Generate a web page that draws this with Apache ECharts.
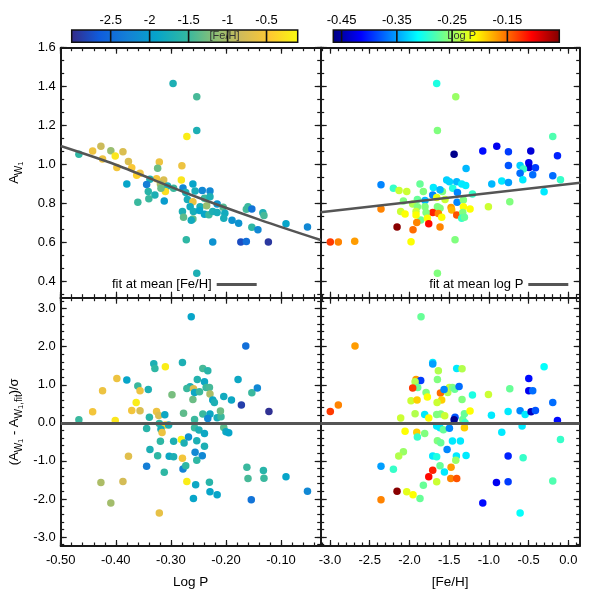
<!DOCTYPE html>
<html>
<head>
<meta charset="utf-8">
<script src="https://cdn.jsdelivr.net/npm/echarts@6/dist/echarts.min.js"></script>
<style>html,body{margin:0;padding:0;background:#fff}#c{width:595px;height:595px}</style>
</head>
<body>
<div id="c"></div>
<script>
// ---------- colour scales ----------
const fehColors  = ['#352a87','#0f5cdd','#1481d6','#06a4ca','#2eb7a4','#87bf77','#d1bb59','#fec832','#f9fb0e'];
const logpColors = ['#00007f','#0000ff','#007fff','#00ffff','#7fff7f','#ffff00','#ff7f00','#ff0000','#7f0000'];
const fehRange  = [-3.0, -0.1];
const logpRange = [-0.465, -0.056];

// ---------- tick labels ----------
const logPTicks = [-0.5, -0.4, -0.3, -0.2, -0.1];
const fehTicks  = [-3.0, -2.5, -2.0, -1.5, -1.0, -0.5, 0.0];
const ampTicks  = [0.4, 0.6, 0.8, 1.0, 1.2, 1.4, 1.6];
const resTicks  = [-3, -2, -1, 0, 1, 2, 3];
const fehBarTicks  = [-2.5, -2, -1.5, -1, -0.5];
const logpBarTicks = [-0.45, -0.35, -0.25, -0.15];

// ---------- panel (a): A_W1 vs Log P, coloured by [Fe/H] ----------
const ampLogP = [-0.296,-0.253,-0.253,-0.271,-0.467,-0.442,-0.427,-0.409,-0.387,-0.424,-0.401,-0.398,-0.377,-0.371,-0.356,-0.362,-0.380,-0.321,-0.324,-0.280,-0.281,-0.326,-0.313,-0.319,-0.338,-0.344,-0.341,-0.329,-0.306,-0.295,-0.310,-0.312,-0.360,-0.340,-0.318,-0.278,-0.260,-0.273,-0.256,-0.243,-0.229,-0.270,-0.260,-0.239,-0.229,-0.247,-0.235,-0.216,-0.265,-0.279,-0.259,-0.248,-0.277,-0.260,-0.263,-0.239,-0.231,-0.224,-0.216,-0.205,-0.202,-0.204,-0.189,-0.177,-0.163,-0.160,-0.153,-0.133,-0.131,-0.153,-0.142,-0.091,-0.052,-0.272,-0.224,-0.173,-0.163,-0.123,-0.253];
const ampLogPAmp = [1.416,1.349,1.175,1.145,1.053,1.070,1.094,1.072,1.067,1.029,1.044,0.986,1.017,0.985,0.956,0.946,0.901,1.014,0.982,0.995,0.922,0.928,0.922,0.901,0.925,0.899,0.863,0.845,0.891,0.879,0.862,0.814,0.807,0.826,0.879,0.881,0.901,0.857,0.865,0.868,0.865,0.822,0.810,0.828,0.836,0.785,0.790,0.798,0.785,0.760,0.760,0.765,0.731,0.722,0.715,0.746,0.743,0.760,0.755,0.782,0.751,0.725,0.715,0.700,0.771,0.785,0.773,0.753,0.740,0.679,0.667,0.697,0.680,0.615,0.604,0.603,0.606,0.603,0.443];
const ampLogPFeh = [-1.7,-1.45,-1.7,-0.2,-1.55,-0.6,-0.85,-1.1,-0.75,-0.6,-0.25,-0.55,-0.75,-0.5,-0.6,-0.4,-1.9,-0.6,-1.3,-0.6,-0.25,-0.55,-0.75,-1.0,-1.7,-2.3,-1.6,-1.7,-1.75,-1.5,-0.3,-2.0,-1.5,-1.5,-1.3,-2.2,-1.9,-1.7,-1.75,-2.2,-2.2,-1.75,-0.6,-1.5,-1.7,-1.7,-1.1,-2.1,-1.8,-1.7,-1.75,-1.9,-1.35,-1.35,-1.8,-1.9,-1.5,-1.7,-1.75,-1.4,-1.8,-1.75,-2.1,-2.1,-1.45,-1.5,-2.4,-1.7,-1.45,-1.55,-2.2,-1.9,-2.2,-1.55,-2.1,-2.75,-2.45,-2.9,-1.7];

// ---------- panel (b): A_W1 vs [Fe/H], coloured by Log P ----------
const ampFeh = [-1.657,-1.417,-1.648,-0.196,-1.438,-1.077,-0.901,-0.754,-0.473,-0.137,-0.754,-0.498,-0.494,-0.414,-0.607,-0.565,-0.607,-0.448,-0.573,-0.196,-0.099,-0.305,-0.838,-0.754,-0.964,-0.737,-1.006,-1.287,-1.531,-1.497,-1.405,-1.342,-1.292,-1.455,-1.396,-1.207,-1.585,-1.699,-1.615,-1.707,-1.867,-1.825,-2.358,-2.202,-2.131,-2.034,-2.076,-1.900,-1.959,-1.900,-1.804,-1.804,-1.657,-1.552,-1.400,-1.321,-1.321,-1.237,-1.476,-1.468,-1.405,-1.329,-1.342,-1.308,-1.648,-1.615,-1.707,-1.636,-1.594,-1.791,-1.858,-1.774,-1.908,-1.917,-1.917,-2.110,-2.055,-2.358,-2.156,-1.955,-1.757,-1.615,-2.996,-2.895,-2.689,-1.980,-1.426,-1.648];
const ampFehAmp = [1.416,1.349,1.175,1.145,1.053,1.070,1.094,1.067,1.070,1.046,0.996,1.010,0.986,0.985,0.996,0.978,0.956,0.949,0.923,0.944,0.923,0.861,0.916,0.909,0.901,0.810,0.785,0.980,0.922,0.913,0.913,0.901,0.893,0.879,0.857,0.850,0.862,0.883,0.872,0.845,0.901,0.862,0.897,0.879,0.868,0.862,0.814,0.822,0.798,0.785,0.816,0.785,0.832,0.822,0.807,0.819,0.785,0.773,0.781,0.768,0.742,0.755,0.725,0.730,0.785,0.777,0.755,0.750,0.730,0.755,0.716,0.725,0.703,0.760,0.742,0.760,0.747,0.773,0.680,0.667,0.697,0.680,0.604,0.604,0.607,0.605,0.615,0.443];
const ampFehLogP = [-0.30,-0.25,-0.26,-0.28,-0.46,-0.41,-0.42,-0.39,-0.43,-0.40,-0.38,-0.42,-0.43,-0.39,-0.33,-0.29,-0.37,-0.37,-0.32,-0.37,-0.29,-0.32,-0.32,-0.35,-0.34,-0.26,-0.23,-0.34,-0.33,-0.33,-0.34,-0.32,-0.32,-0.30,-0.36,-0.29,-0.26,-0.32,-0.34,-0.36,-0.27,-0.26,-0.36,-0.29,-0.23,-0.23,-0.26,-0.27,-0.24,-0.26,-0.34,-0.26,-0.22,-0.23,-0.36,-0.26,-0.21,-0.21,-0.17,-0.18,-0.14,-0.26,-0.29,-0.27,-0.26,-0.26,-0.12,-0.16,-0.21,-0.26,-0.27,-0.21,-0.16,-0.23,-0.21,-0.23,-0.21,-0.16,-0.06,-0.15,-0.11,-0.16,-0.13,-0.16,-0.17,-0.21,-0.26,-0.26];

// ---------- panel (c): residual vs Log P, coloured by [Fe/H] ----------
const resLogP = [-0.263,-0.164,-0.331,-0.329,-0.310,-0.279,-0.242,-0.233,-0.398,-0.380,-0.360,-0.356,-0.424,-0.341,-0.298,-0.252,-0.239,-0.265,-0.271,-0.259,-0.257,-0.248,-0.236,-0.230,-0.229,-0.260,-0.224,-0.221,-0.204,-0.190,-0.178,-0.153,-0.143,-0.172,-0.122,-0.363,-0.371,-0.356,-0.442,-0.467,-0.401,-0.326,-0.322,-0.311,-0.277,-0.339,-0.321,-0.310,-0.304,-0.344,-0.318,-0.316,-0.257,-0.242,-0.229,-0.233,-0.216,-0.209,-0.210,-0.257,-0.249,-0.239,-0.204,-0.200,-0.195,-0.319,-0.295,-0.281,-0.276,-0.268,-0.253,-0.239,-0.338,-0.324,-0.303,-0.295,-0.377,-0.279,-0.256,-0.243,-0.253,-0.344,-0.278,-0.273,-0.312,-0.162,-0.160,-0.132,-0.131,-0.091,-0.052,-0.154,-0.271,-0.255,-0.230,-0.229,-0.216,-0.259,-0.427,-0.387,-0.409,-0.321];
const resLogPRes = [2.790,2.018,1.553,1.430,1.474,1.589,1.430,1.369,1.168,1.124,0.966,0.843,0.843,0.878,0.738,1.141,1.080,0.948,0.904,0.896,0.799,0.817,0.930,0.930,0.755,0.615,0.597,0.536,0.694,0.597,1.141,0.790,0.913,0.466,0.299,0.536,0.325,0.317,0.290,0.080,0.062,0.299,0.194,0.211,0.255,0.150,-0.020,-0.060,-0.060,-0.148,-0.166,-0.255,0.088,0.230,0.230,0.115,0.132,0.159,0.308,-0.130,-0.190,-0.280,-0.120,-0.236,-0.263,-0.483,-0.483,-0.440,-0.527,-0.370,-0.474,-0.615,-0.700,-0.868,-0.877,-0.894,-0.877,-0.930,-0.770,-0.868,-0.982,-1.140,-1.210,-1.130,-1.300,-1.167,-1.465,-1.253,-1.455,-1.420,-1.800,-2.020,-1.540,-1.630,-1.560,-1.810,-1.890,-1.990,-1.570,-1.540,-2.110,-2.370];
const resLogPFeh = [-1.9,-2.45,-1.7,-1.55,-0.2,-1.7,-1.45,-1.6,-0.6,-1.9,-1.5,-0.6,-0.6,-1.7,-1.25,-1.65,-1.85,-1.7,-1.5,-0.75,-1.85,-1.5,-1.5,-1.45,-1.0,-1.3,-1.85,-1.7,-1.8,-1.85,-1.85,-1.5,-2.2,-2.85,-2.95,-0.2,-0.55,-0.75,-0.55,-1.5,-0.25,-0.6,-0.75,-1.85,-1.35,-1.6,-1.55,-0.4,-1.7,-1.6,-1.75,-0.6,-1.5,-1.5,-1.85,-2.2,-1.75,-1.5,-1.3,-1.5,-1.7,-1.85,-1.35,-1.85,-1.9,-1.55,-1.7,-0.15,-1.7,-2.1,-1.7,-1.7,-1.7,-1.55,-1.85,-1.7,-0.7,-0.55,-2.2,-2.2,-1.55,-2.3,-2.25,-1.55,-1.55,-1.5,-1.45,-1.6,-1.5,-1.9,-2.2,-2.4,-0.2,-1.85,-1.6,-1.9,-1.9,-1.9,-1.0,-0.8,-1.05,-0.65];

// ---------- panel (d): residual vs [Fe/H], coloured by Log P ----------
const resFeh = [-1.854,-2.685,-1.707,-1.707,-1.636,-1.405,-1.338,-0.305,-1.917,-1.858,-1.929,-1.896,-1.959,-1.648,-1.791,-1.610,-1.518,-1.497,-1.459,-1.564,-1.430,-1.375,-1.774,-1.980,-1.904,-1.594,-1.652,-1.338,-1.207,-1.006,-0.737,-0.498,-0.498,-0.448,-0.196,-1.929,-1.808,-1.757,-2.110,-1.657,-1.606,-1.556,-1.426,-1.438,-1.308,-1.329,-1.300,-1.237,-0.968,-0.758,-0.607,-0.544,-0.469,-0.414,-0.137,-1.657,-1.615,-1.573,-1.497,-2.055,-1.908,-1.900,-1.808,-1.308,-0.838,-0.582,-0.099,-1.648,-1.606,-1.459,-1.359,-1.526,-2.076,-2.135,-1.707,-1.657,-1.409,-1.287,-1.417,-1.615,-1.476,-1.560,-1.707,-1.757,-1.480,-1.405,-1.657,-1.825,-2.358,-2.202,-0.758,-0.569,-0.905,-0.758,-0.196,-2.156,-2.034,-1.955,-1.867,-2.358,-1.077,-0.607,-2.996,-2.895];
const resFehRes = [2.790,2.018,1.589,1.545,1.369,1.430,1.421,1.474,1.141,1.115,1.080,0.930,0.913,1.141,0.799,0.781,0.799,0.930,0.930,0.878,0.886,0.957,0.676,0.580,0.597,0.597,0.536,0.615,0.729,0.746,0.896,1.168,0.843,0.843,0.536,0.238,0.220,0.124,0.124,0.220,0.230,0.186,0.150,0.080,0.238,0.090,0.000,0.308,0.200,0.299,0.317,0.220,0.292,0.327,0.062,-0.080,-0.130,-0.180,-0.140,-0.220,-0.245,-0.370,-0.280,-0.130,-0.245,-0.080,-0.440,-0.473,-0.526,-0.480,-0.480,-0.700,-0.760,-0.870,-0.870,-0.894,-0.870,-0.860,-0.982,-1.130,-1.167,-1.290,-1.245,-1.420,-1.460,-1.460,-1.550,-1.640,-1.140,-1.220,-0.870,-0.920,-1.570,-1.550,-1.530,-1.800,-1.810,-1.890,-1.990,-2.020,-2.110,-2.370,0.300,0.466];
const resFehLogP = [-0.27,-0.17,-0.32,-0.35,-0.24,-0.32,-0.24,-0.31,-0.17,-0.39,-0.24,-0.27,-0.13,-0.26,-0.26,-0.15,-0.24,-0.23,-0.26,-0.36,-0.27,-0.37,-0.21,-0.23,-0.19,-0.19,-0.23,-0.26,-0.30,-0.23,-0.27,-0.41,-0.42,-0.37,-0.37,-0.24,-0.32,-0.21,-0.23,-0.26,-0.26,-0.23,-0.38,-0.46,-0.27,-0.27,-0.29,-0.21,-0.32,-0.32,-0.36,-0.32,-0.44,-0.38,-0.41,-0.32,-0.32,-0.27,-0.36,-0.21,-0.19,-0.29,-0.26,-0.19,-0.32,-0.32,-0.29,-0.26,-0.27,-0.32,-0.32,-0.36,-0.25,-0.24,-0.32,-0.30,-0.32,-0.32,-0.25,-0.27,-0.17,-0.32,-0.12,-0.11,-0.16,-0.14,-0.23,-0.27,-0.35,-0.29,-0.40,-0.29,-0.42,-0.39,-0.28,-0.06,-0.22,-0.21,-0.27,-0.16,-0.41,-0.31,-0.13,-0.16];

// ---------- fits ----------
const fitLogPX = [-0.5, -0.4, -0.264, -0.137, -0.028];
const fitLogPY = [1.096, 1.0, 0.846, 0.716, 0.614];
const fitFehX  = [-3.12, 0.15];
const fitFehY  = [0.756, 0.908];

// ---------- layout ----------
const FONT = '"Liberation Sans", Arial, Helvetica, sans-serif';
const INK = '#1a1a1a';
const logPExt = [-0.5, -0.028];
const fehExt  = [-3.117, 0.143];
const ampExt  = [0.318, 1.6];
const resExt  = [-3.237, 3.289];

function steps(a, b, s) { const o = []; for (let k = 0; a + k * s <= b + 1e-9; k++) o.push(+(a + k * s).toFixed(5)); return o; }
const logPMinor = steps(-0.5, -0.03, 0.02);
const fehMinor  = steps(-3.1, 0.1, 0.1);
const ampMinor  = steps(1.6 - 19 * 0.2 / 3, 1.6, 0.2 / 3).filter(v => v >= ampExt[0]);
const resMinor  = steps(-3.2, 3.2, 0.2);

const zip3 = (a, b, c) => a.map((v, i) => [v, b[i], c[i]]);
const zip2 = (a, b) => a.map((v, i) => [v, b[i]]);

function axisSet(kind, gi, ext, major, minor, lab) {
  const posA = kind === 'x' ? 'bottom' : 'left';
  const posB = kind === 'x' ? 'top' : 'right';
  const mk = (pos, ticks, len, line, label) => {
    const ax = {
      type: 'value', gridIndex: gi, min: ext[0], max: ext[1], position: pos,
      splitLine: { show: false },
      axisLine: { show: line, onZero: false, lineStyle: { color: INK, width: 2 } },
      axisTick: { show: true, inside: true, length: len, customValues: ticks, lineStyle: { color: INK, width: 1.2 } },
      axisLabel: { show: false }
    };
    if (label) {
      ax.axisLabel = { show: true, customValues: ticks, formatter: lab.fmt, fontSize: 13, color: '#000',
                       fontFamily: FONT, margin: lab.margin };
      if (lab.name) {
        ax.name = lab.name; ax.nameLocation = 'middle'; ax.nameGap = lab.gap;
        ax.nameTextStyle = lab.nameStyle;
      }
    }
    return ax;
  };
  return [
    mk(posA, major, 6, true, !!lab),
    mk(posA, minor, 3.5, false, false),
    mk(posB, major, 6, true, false),
    mk(posB, minor, 3.5, false, false)
  ];
}

const nameRich = {
  a: { fontSize: 13, fontFamily: FONT, color: '#000', lineHeight: 20, verticalAlign: 'middle' },
  s: { fontSize: 10, fontFamily: FONT, color: '#000', lineHeight: 11, verticalAlign: 'bottom' },
  t: { fontSize: 7.5, fontFamily: FONT, color: '#000', lineHeight: 6, verticalAlign: 'bottom' }
};
const f1 = v => v.toFixed(1), f2 = v => v.toFixed(2);

const xAxes = [].concat(
  axisSet('x', 0, logPExt, logPTicks, logPMinor, null),
  axisSet('x', 1, fehExt, fehTicks, fehMinor, null),
  axisSet('x', 2, logPExt, logPTicks, logPMinor, { fmt: f2, margin: 8, name: 'Log P', gap: 29,
          nameStyle: { fontSize: 13.5, color: '#000', fontFamily: FONT } }),
  axisSet('x', 3, fehExt, fehTicks, fehMinor, { fmt: f1, margin: 8, name: '[Fe/H]', gap: 29,
          nameStyle: { fontSize: 13.5, color: '#000', fontFamily: FONT } }),
  [
    { type: 'value', gridIndex: 4, min: fehRange[0], max: fehRange[1], position: 'top',
      splitLine: { show: false }, axisLine: { show: false }, axisTick: { show: false },
      axisLabel: { show: true, customValues: fehBarTicks, formatter: v => String(v), margin: 3, fontSize: 13, color: '#000', fontFamily: FONT } },
    { type: 'value', gridIndex: 5, min: logpRange[0], max: logpRange[1], position: 'top',
      splitLine: { show: false }, axisLine: { show: false }, axisTick: { show: false },
      axisLabel: { show: true, customValues: logpBarTicks, formatter: f2, margin: 3, fontSize: 13, color: '#000', fontFamily: FONT } }
  ]
);
const yAxes = [].concat(
  axisSet('y', 0, ampExt, ampTicks, ampMinor, { fmt: f1, margin: 5, name: '{a|A}{s|W}{t|1}', gap: 36,
          nameStyle: { rich: nameRich } }),
  axisSet('y', 1, ampExt, ampTicks, ampMinor, null),
  axisSet('y', 2, resExt, resTicks, resMinor, { fmt: f1, margin: 5,
          name: '{a|(A}{s|W}{t|1}{a| - A}{s|W}{t|1}{s|,fit}{a|)/σ}', gap: 36, nameStyle: { rich: nameRich } }),
  axisSet('y', 3, resExt, resTicks, resMinor, null),
  [
    { type: 'value', gridIndex: 4, min: 0, max: 1, show: false },
    { type: 'value', gridIndex: 5, min: 0, max: 1, show: false }
  ]
);

function gradient(cols) {
  return new echarts.graphic.LinearGradient(0, 0, 1, 0,
    cols.map((c, i) => ({ offset: i / (cols.length - 1), color: c })));
}
function barItem(cols, ticks) {
  return function (params, api) {
    const a = api.coord([api.value(0), 0]);
    const b = api.coord([api.value(1), 1]);
    const children = [{ type: 'rect', shape: { x: a[0], y: b[1], width: b[0] - a[0], height: a[1] - b[1] },
             style: { fill: gradient(cols), stroke: '#111', lineWidth: 1.5 } }];
    ticks.forEach(t => {
      const x = api.coord([t, 0])[0];
      children.push({ type: 'line', shape: { x1: x, y1: b[1], x2: x, y2: a[1] },
                      style: { stroke: '#111', lineWidth: 1.6 } });
    });
    return { type: 'group', children: children };
  };
}

const zeroLine = { silent: true, symbol: 'none', label: { show: false },
                   lineStyle: { color: '#555', width: 3, type: 'solid' }, data: [{ yAxis: 0 }] };
const sc = (xi, data, extra) => Object.assign({ type: 'scatter', xAxisIndex: xi, yAxisIndex: xi,
  symbolSize: 7.5, data: data, itemStyle: { opacity: 1 } }, extra || {});

const grids = [
  { left: 60.7, top: 47.7, width: 260, height: 250 },
  { left: 320.7, top: 47.7, width: 259, height: 250 },
  { left: 60.7, top: 297.7, width: 260, height: 248.3 },
  { left: 320.7, top: 297.7, width: 259, height: 248.3 },
  { left: 71.7, top: 30, width: 226, height: 12.3 },
  { left: 333.3, top: 30, width: 226, height: 12.3 }
].map(g => Object.assign({ containLabel: false, outerBoundsMode: 'none', show: false }, g));

const option = {
  animation: false,
  backgroundColor: '#fff',
  textStyle: { fontFamily: FONT },
  grid: grids,
  xAxis: xAxes,
  yAxis: yAxes,
  visualMap: [
    { type: 'continuous', show: false, seriesIndex: [0, 2], dimension: 2,
      min: fehRange[0], max: fehRange[1], inRange: { color: fehColors } },
    { type: 'continuous', show: false, seriesIndex: [1, 3], dimension: 2,
      min: logpRange[0], max: logpRange[1], inRange: { color: logpColors } }
  ],
  legend: [
    { data: ['fit at mean [Fe/H]'], right: 338.3, top: 278, padding: 0, align: 'right', icon: 'rect',
      itemWidth: 40, itemHeight: 3, selectedMode: false,
      textStyle: { fontSize: 13, color: '#000', fontFamily: FONT } },
    { data: ['fit at mean log P'], right: 26.7, top: 278, padding: 0, align: 'right', icon: 'rect',
      itemWidth: 40, itemHeight: 3, selectedMode: false,
      textStyle: { fontSize: 13, color: '#000', fontFamily: FONT } }
  ],
  series: [
    sc(0, zip3(ampLogP, ampLogPAmp, ampLogPFeh)),
    sc(4, zip3(ampFeh, ampFehAmp, ampFehLogP)),
    sc(8, zip3(resLogP, resLogPRes, resLogPFeh), { markLine: zeroLine }),
    sc(12, zip3(resFeh, resFehRes, resFehLogP), { markLine: zeroLine }),
    { type: 'line', name: 'fit at mean [Fe/H]', xAxisIndex: 0, yAxisIndex: 0, data: zip2(fitLogPX, fitLogPY),
      smooth: 0.3, symbol: 'none', color: '#555', lineStyle: { color: '#555', width: 2.5 } },
    { type: 'line', name: 'fit at mean log P', xAxisIndex: 4, yAxisIndex: 4, data: zip2(fitFehX, fitFehY),
      symbol: 'none', color: '#555', lineStyle: { color: '#555', width: 2.5 } },
    { type: 'custom', xAxisIndex: 16, yAxisIndex: 16, silent: true,
      data: [[fehRange[0], fehRange[1]]], renderItem: barItem(fehColors, fehBarTicks) },
    { type: 'custom', xAxisIndex: 17, yAxisIndex: 17, silent: true,
      data: [[logpRange[0], logpRange[1]]], renderItem: barItem(logpColors, logpBarTicks) }
  ],
  graphic: [
    { type: 'text', x: 224.5, y: 36.3, z: 100, silent: true,
      style: { text: '[Fe/H]', fontSize: 11, fill: '#333', align: 'center', verticalAlign: 'middle', fontFamily: FONT } },
    { type: 'text', x: 461.7, y: 36.3, z: 100, silent: true,
      style: { text: 'Log P', fontSize: 11, fill: '#333', align: 'center', verticalAlign: 'middle', fontFamily: FONT } }
  ]
};

const chart = echarts.init(document.getElementById('c'), null, { renderer: 'canvas' });
chart.setOption(option);
</script>
</body>
</html>
